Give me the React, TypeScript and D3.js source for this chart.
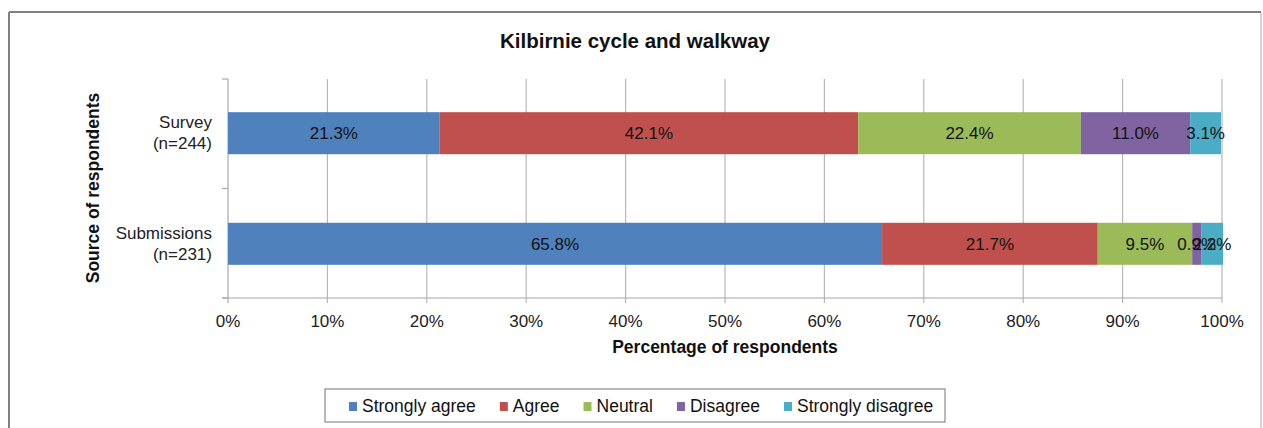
import React, { useMemo } from "react";
import * as d3 from "d3";

const categories = ["Survey", "Submissions"];
const categoryLines = [["Survey", "(n=244)"], ["Submissions", "(n=231)"]];
const seriesNames = ["Strongly agree", "Agree", "Neutral", "Disagree", "Strongly disagree"];
const seriesColors = ["#4F81BD", "#C0504D", "#9BBB59", "#8064A2", "#4BACC6"];
const surveyValues = [21.3, 42.1, 22.4, 11.0, 3.1];
const submissionValues = [65.8, 21.7, 9.5, 0.9, 2.2];
const xTicks = [0, 10, 20, 30, 40, 50, 60, 70, 80, 90, 100];

const FONT = "'Liberation Sans', Arial, sans-serif";

export default function App() {
  const W = 1263, H = 428;
  const x = d3.scaleLinear().domain([0, 100]).range([228, 1222]);
  const y = d3.scaleBand().domain(categories).range([79, 298]).paddingInner(0.62).paddingOuter(0.3);
  const rows = [surveyValues, submissionValues].map((vals, i) => {
    const o: any = { cat: categories[i] };
    seriesNames.forEach((s, j) => (o[s] = vals[j]));
    return o;
  });
  const stacked = d3.stack().keys(seriesNames)(rows);

  const legendWidths = useMemo(() => {
    const c = document.createElement("canvas").getContext("2d")!;
    c.font = `17.5px ${FONT}`;
    return seriesNames.map((s) => c.measureText(s).width);
  }, []);
  const legendPos: number[] = [];
  let lx = 349;
  legendWidths.forEach((w) => {
    legendPos.push(lx);
    lx += 8 + 5 + w + 24;
  });

  const yTickPos = [79, (y("Survey")! + y.bandwidth() + y("Submissions")!) / 2, 298];

  return (
    <svg width={W} height={H} style={{ position: "absolute", left: 0, top: 0, fontFamily: FONT }}>
      <rect x={0} y={0} width={W} height={H} fill="#fff" />
      {/* outer frame */}
      <line x1={9} y1={12} x2={1261} y2={12} stroke="#808080" strokeWidth={2} />
      <line x1={9} y1={12} x2={9} y2={H} stroke="#808080" strokeWidth={2} />
      <line x1={1261} y1={13} x2={1261} y2={H} stroke="#d4d4d4" strokeWidth={2} />

      <text x={635} y={48} textAnchor="middle" fontWeight="bold" fontSize={20.5} fill="#111">
        Kilbirnie cycle and walkway
      </text>

      {/* gridlines */}
      {xTicks.slice(1).map((t) => (
        <line key={"g" + t} x1={x(t)} x2={x(t)} y1={79} y2={303} stroke="#b8b8b8" strokeWidth={1.2} />
      ))}
      {/* axes */}
      <line x1={228} x2={228} y1={79} y2={303} stroke="#a8a8a8" strokeWidth={1.2} />
      <line x1={222} x2={1222} y1={298} y2={298} stroke="#a8a8a8" strokeWidth={1.2} />
      {yTickPos.map((p, i) => (
        <line key={"yt" + i} x1={222} x2={228} y1={p} y2={p} stroke="#a8a8a8" strokeWidth={1.2} />
      ))}

      {/* bars */}
      {stacked.map((layer, si) =>
        layer.map((d: any, ci) => (
          <rect
            key={`b${si}-${ci}`}
            x={x(d[0])}
            y={y(d.data.cat)!}
            width={x(d[1]) - x(d[0])}
            height={y.bandwidth()}
            fill={seriesColors[si]}
          />
        ))
      )}
      {stacked.map((layer, si) =>
        layer.map((d: any, ci) => (
          <text
            key={`l${si}-${ci}`}
            x={(x(d[0]) + x(d[1])) / 2}
            y={y(d.data.cat)! + y.bandwidth() / 2 + 6}
            textAnchor="middle"
            fontSize={17}
            fill="#111"
          >
            {(d[1] - d[0]).toFixed(1)}%
          </text>
        ))
      )}

      {/* category labels */}
      {categories.map((c, i) => {
        const cy = y(c)! + y.bandwidth() / 2;
        return (
          <text key={"c" + c} textAnchor="end" fontSize={17} fill="#222">
            <tspan x={212} y={cy - 5}>{categoryLines[i][0]}</tspan>
            <tspan x={212} y={cy + 16}>{categoryLines[i][1]}</tspan>
          </text>
        );
      })}

      {/* x tick labels */}
      {xTicks.map((t) => (
        <text key={"xt" + t} x={x(t)} y={327} textAnchor="middle" fontSize={17} fill="#222">
          {t}%
        </text>
      ))}
      <text x={725} y={353} textAnchor="middle" fontWeight="bold" fontSize={17.5} fill="#111">
        Percentage of respondents
      </text>
      <text
        transform={`translate(99, 188) rotate(-90)`}
        textAnchor="middle"
        fontWeight="bold"
        fontSize={17.5}
        fill="#111"
      >
        Source of respondents
      </text>

      {/* legend */}
      <rect x={325} y={389} width={620} height={33} fill="#fff" stroke="#8a8a8a" strokeWidth={1.2} />
      {seriesNames.map((s, i) => (
        <g key={"lg" + s}>
          <rect x={legendPos[i]} y={402} width={8} height={9} fill={seriesColors[i]} />
          <text x={legendPos[i] + 13} y={412} fontSize={17.5} fill="#111">
            {s}
          </text>
        </g>
      ))}
    </svg>
  );
}
